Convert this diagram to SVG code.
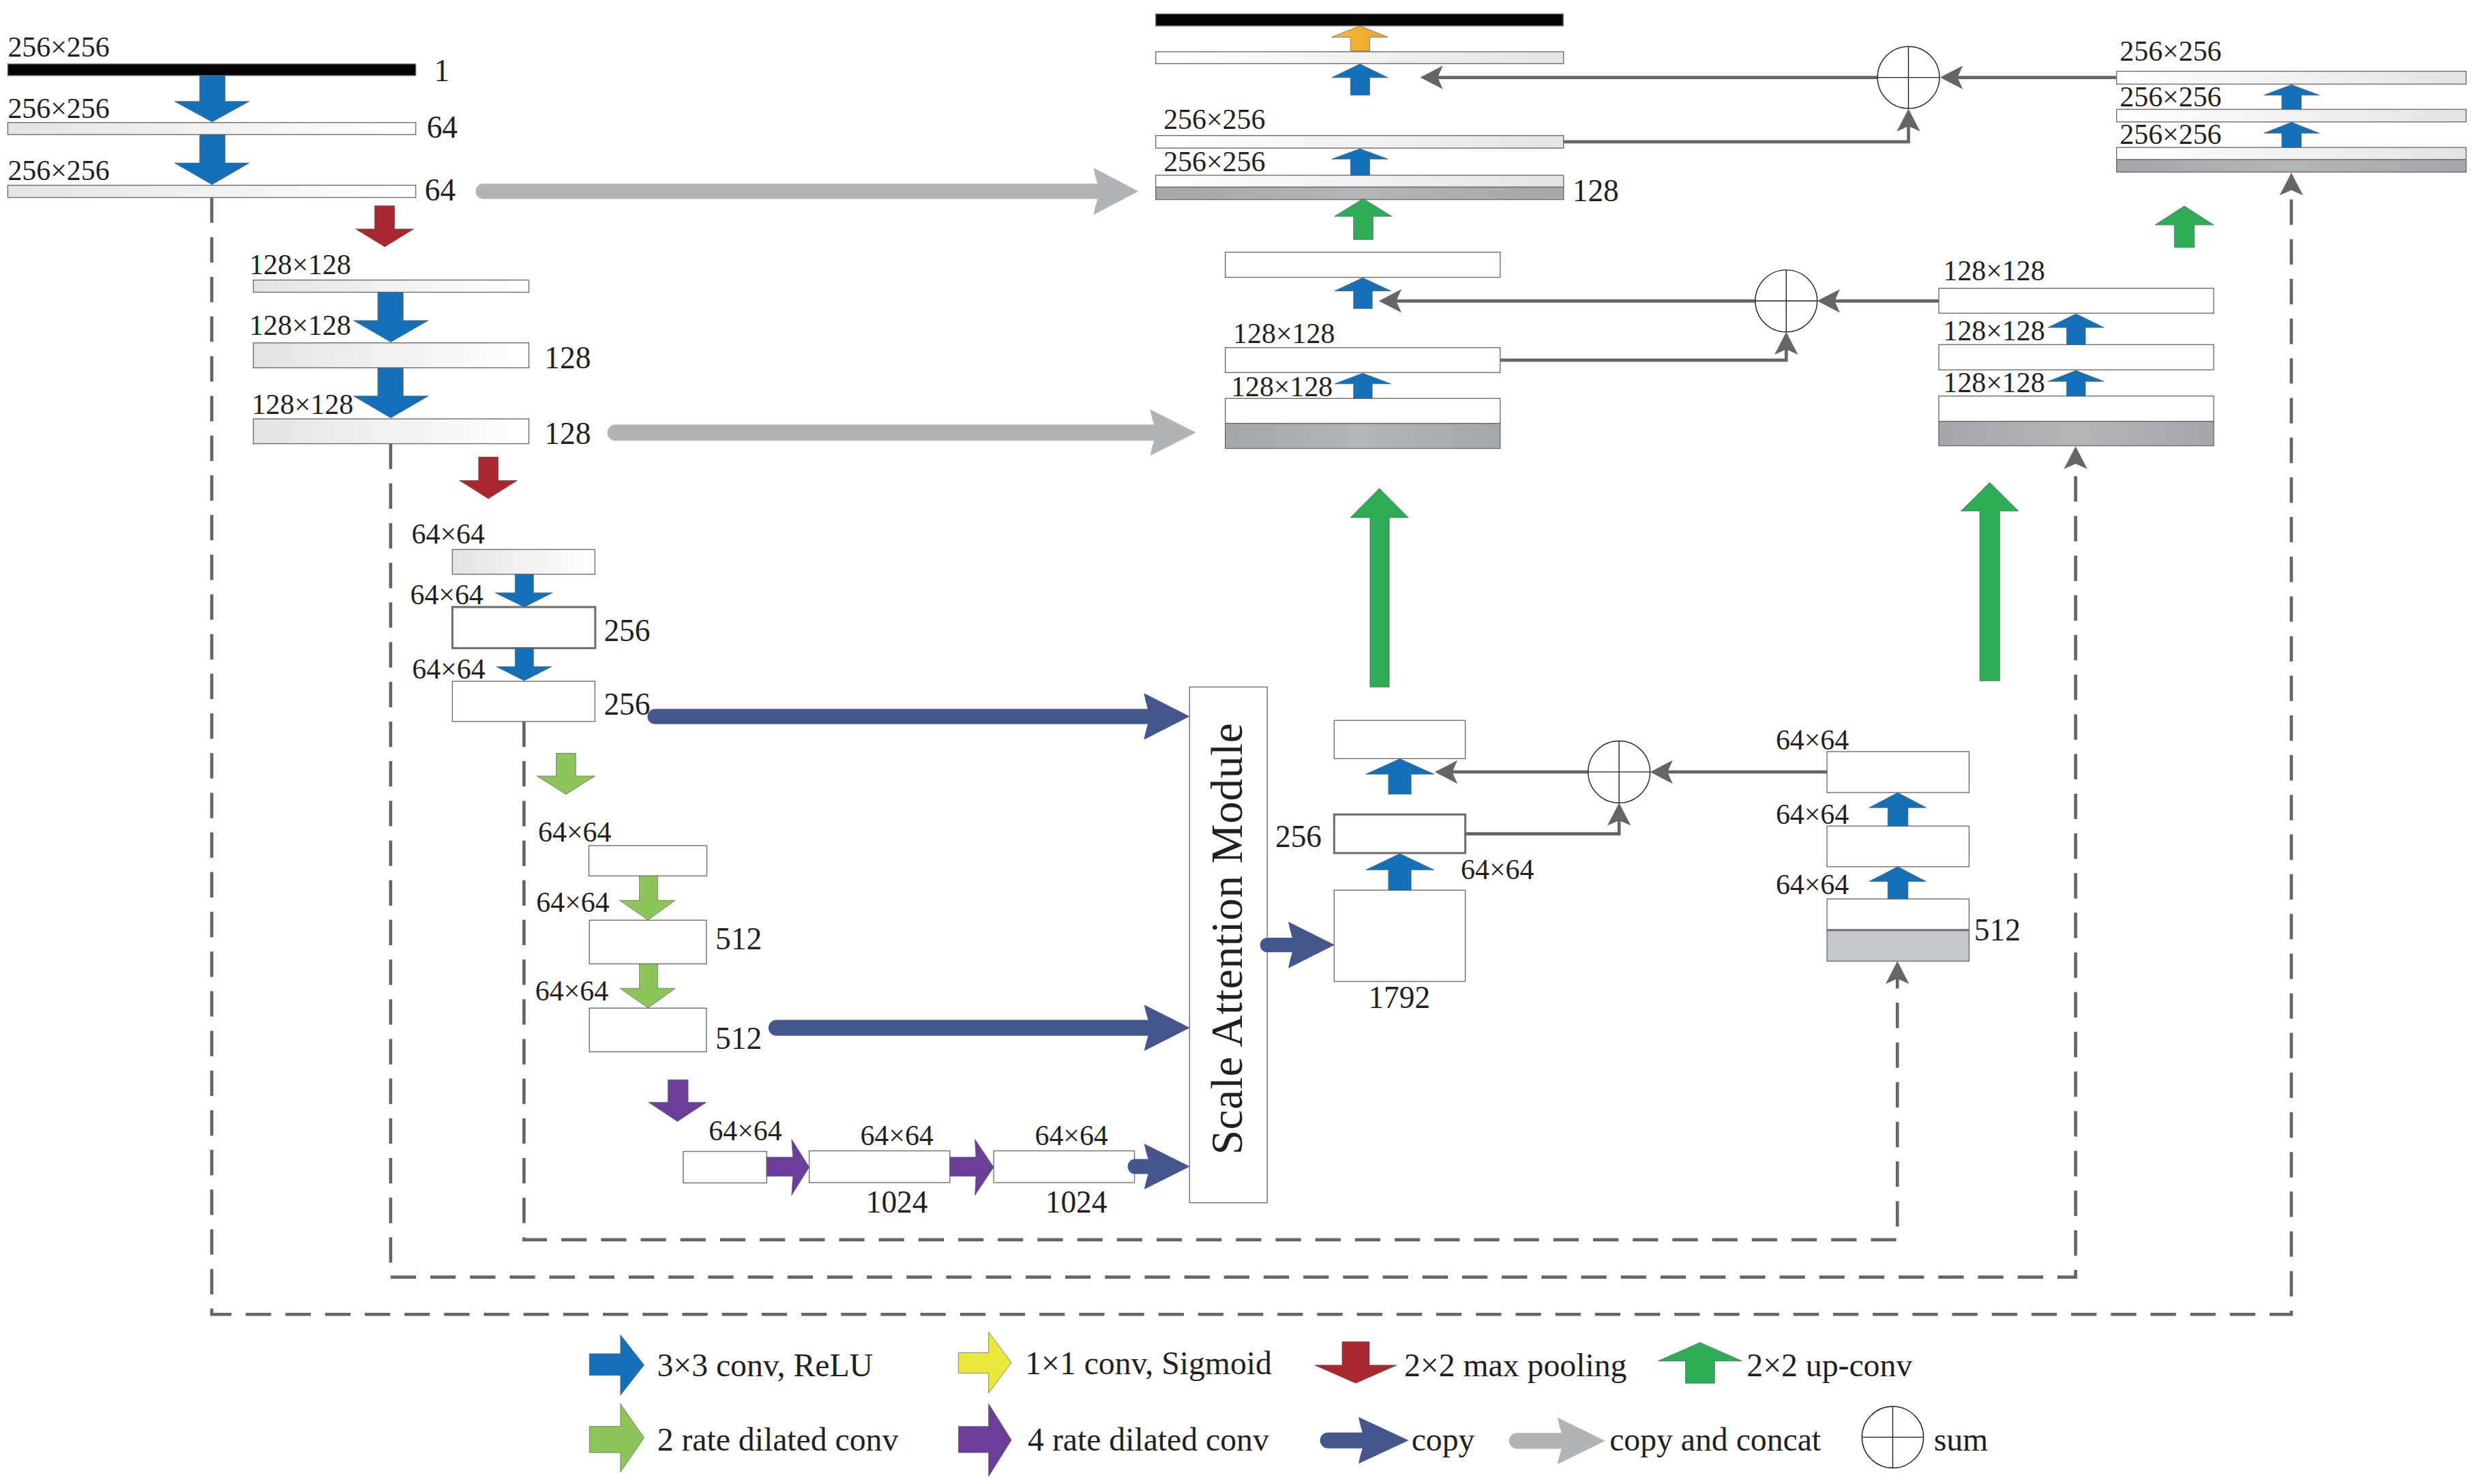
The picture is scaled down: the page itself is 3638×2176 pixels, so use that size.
<svg xmlns="http://www.w3.org/2000/svg" width="3638" height="2176" viewBox="0 0 3638 2176">
<defs>
<style>
.t{font-family:"Liberation Serif","Times New Roman",serif;font-size:18px;fill:#231f20}
.ch{font-size:19.5px}
.lg{font-size:20.5px}
.bx{stroke:#6d6e71;stroke-width:0.6}
.thick{stroke-width:1.3}
.conn{fill:none;stroke:#646567;stroke-width:2}
.dash{fill:none;stroke:#646567;stroke-width:2;stroke-dasharray:16 9}
.sum circle{fill:#fff;stroke:#231f20;stroke-width:0.6}
.sum line{stroke:#231f20;stroke-width:0.6}
.ar{stroke:#58595b;stroke-width:0.3}
.blue{fill:#1570b8}
.red{fill:#a8282f}
.lgr{fill:#8dc55a}
.pur{fill:#6b3f98}
.grn{fill:#2eac57}
.org{fill:url(#gO)}
.yel{fill:#e9e63e}
.cpy{fill:#44568b}
.cat{fill:#b2b3b5}
</style>
<linearGradient id="gL" x1="0" y1="0" x2="1" y2="0"><stop offset="0" stop-color="#e3e4e5"/><stop offset="1" stop-color="#ffffff"/></linearGradient>
<linearGradient id="gR" x1="0" y1="0" x2="1" y2="0"><stop offset="0" stop-color="#ffffff"/><stop offset="1" stop-color="#e3e4e5"/></linearGradient>
<linearGradient id="gG" x1="0" y1="0" x2="1" y2="0"><stop offset="0" stop-color="#a5a7aa"/><stop offset="0.5" stop-color="#b4b5b7"/><stop offset="1" stop-color="#a5a7aa"/></linearGradient>
<linearGradient id="gO" x1="0" y1="0" x2="1" y2="0"><stop offset="0" stop-color="#f5b83a"/><stop offset="1" stop-color="#eea52b"/></linearGradient>
<marker id="ah" markerUnits="userSpaceOnUse" viewBox="-10 -8 16 16" refX="0" refY="0" markerWidth="16" markerHeight="16" orient="auto"><path d="M5,0 L-9.3,-7.4 L-6,0 L-9.3,7.4 Z" fill="#646567"/></marker>
</defs>
<rect width="3638" height="2176" fill="#ffffff"/>
<g transform="scale(2.3276)">

<g id="connectors">
  <g id="skip-dashed">
    <path class="dash" d="M133.4,124.4 V828 H1443.5 V113.8" marker-end="url(#ah)"/>
    <path class="dash" d="M246.1,279.5 V804.5 H1307.6 V286.2" marker-end="url(#ah)"/>
    <path class="dash" d="M330.1,454.5 V781 H1195.3 V610.5" marker-end="url(#ah)"/>
  </g>
  <g id="sum-lines">
    <path class="conn" d="M1333.4,48.8 H1227.2" marker-end="url(#ah)"/>
    <path class="conn" d="M1183.3,48.8 H899.7" marker-end="url(#ah)"/>
    <path class="conn" d="M985,89.3 H1202.3 V73.5" marker-end="url(#ah)"/>
    <path class="conn" d="M1221.4,189.6 H1149.8" marker-end="url(#ah)"/>
    <path class="conn" d="M1105.9,189.6 H873.6" marker-end="url(#ah)"/>
    <path class="conn" d="M945.1,226.9 H1125.3 V214.1" marker-end="url(#ah)"/>
    <path class="conn" d="M1151,486.3 H1044.5" marker-end="url(#ah)"/>
    <path class="conn" d="M1000.5,486.3 H908.9" marker-end="url(#ah)"/>
    <path class="conn" d="M923.1,525.3 H1020 V510.8" marker-end="url(#ah)"/>
  </g>
</g>

<g id="enc-256">
  <text class="t" x="4.9" y="35.5">256×256</text>
  <rect x="4.9" y="40.3" width="257" height="7.3" fill="#050505" class="bx"/>
  <text class="t ch" x="273.5" y="51">1</text>
  <text class="t" x="4.9" y="74.5">256×256</text>
  <rect x="4.9" y="77.2" width="257" height="7.6" fill="url(#gL)" class="bx"/>
  <text class="t ch" x="268.8" y="86.8">64</text>
  <text class="t" x="4.9" y="113.6">256×256</text>
  <rect x="4.9" y="116.7" width="257" height="7.7" fill="url(#gL)" class="bx"/>
  <text class="t ch" x="267.6" y="126.3">64</text>
</g>
<g id="enc-128">
  <text class="t" x="157" y="172.7">128×128</text>
  <rect x="159.6" y="176.4" width="173.6" height="7.7" fill="url(#gL)" class="bx"/>
  <text class="t" x="157" y="211">128×128</text>
  <rect x="159.6" y="216" width="173.6" height="15.7" fill="url(#gL)" class="bx"/>
  <text class="t ch" x="343" y="232">128</text>
  <text class="t" x="158.5" y="260.6">128×128</text>
  <rect x="159.6" y="263.9" width="173.6" height="15.6" fill="url(#gL)" class="bx"/>
  <text class="t ch" x="343" y="279.5">128</text>
</g>
<g id="enc-64">
  <text class="t" x="259.3" y="342.6">64×64</text>
  <rect x="285" y="346.1" width="89.8" height="15.7" fill="url(#gL)" class="bx"/>
  <text class="t" x="258.4" y="380.6">64×64</text>
  <rect x="285" y="382.4" width="90" height="25.9" fill="#fff" class="bx thick"/>
  <text class="t ch" x="380.4" y="404">256</text>
  <text class="t" x="259.6" y="427.5">64×64</text>
  <rect x="285" y="429.2" width="89.8" height="25.3" fill="#fff" class="bx"/>
  <text class="t ch" x="380.4" y="450.1">256</text>
</g>
<g id="dil-2">
  <text class="t" x="339" y="530.3">64×64</text>
  <rect x="371" y="532.7" width="74.3" height="19.1" fill="#fff" class="bx"/>
  <text class="t" x="337.8" y="574.5">64×64</text>
  <rect x="371.3" y="579.7" width="73.7" height="27.5" fill="#fff" class="bx"/>
  <text class="t ch" x="450.7" y="598">512</text>
  <text class="t" x="337.2" y="630.4">64×64</text>
  <rect x="371.3" y="635.1" width="73.7" height="27.5" fill="#fff" class="bx"/>
  <text class="t ch" x="450.7" y="660.8">512</text>
</g>
<g id="dil-4">
  <text class="t" x="446.5" y="718.4">64×64</text>
  <rect x="430.4" y="725.4" width="52.6" height="19.8" fill="#fff" class="bx"/>
  <text class="t" x="565" y="721.3" text-anchor="middle">64×64</text>
  <rect x="509.8" y="725" width="88.6" height="20" fill="#fff" class="bx"/>
  <text class="t ch" x="565" y="764" text-anchor="middle">1024</text>
  <text class="t" x="675" y="721.3" text-anchor="middle">64×64</text>
  <rect x="626" y="725" width="88.7" height="20" fill="#fff" class="bx"/>
  <text class="t ch" x="678" y="764" text-anchor="middle">1024</text>
</g>
<g id="scale-attention">
  <rect x="749.4" y="432.8" width="49" height="324.9" fill="#fff" class="bx"/>
  <text class="t" transform="translate(782.2,591.5) rotate(-90)" text-anchor="middle" textLength="272" lengthAdjust="spacing" style="font-size:28px">Scale Attention Module</text>
</g>
<g id="dec-64">
  <rect x="840.5" y="453.8" width="82.6" height="24.1" fill="#fff" class="bx"/>
  <rect x="840.5" y="513.1" width="82.6" height="24.3" fill="#fff" class="bx thick"/>
  <text class="t ch" x="803.4" y="533.6">256</text>
  <text class="t" x="920.3" y="554">64×64</text>
  <rect x="840.5" y="560.8" width="82.6" height="57.5" fill="#fff" class="bx"/>
  <text class="t ch" x="881.5" y="634.9" text-anchor="middle">1792</text>
</g>
<g id="res-64">
  <text class="t" x="1118.7" y="472.1">64×64</text>
  <rect x="1151" y="473.5" width="89.5" height="25.8" fill="#fff" class="bx"/>
  <text class="t" x="1118.7" y="518.9">64×64</text>
  <rect x="1151" y="520.4" width="89.5" height="25.6" fill="#fff" class="bx"/>
  <text class="t" x="1118.7" y="563.3">64×64</text>
  <rect x="1151" y="566.3" width="89.5" height="19.6" fill="#fff" class="bx"/>
  <rect x="1151" y="585.9" width="89.5" height="19.6" fill="#c6c7c9" class="bx"/>
  <line x1="1151" y1="585.9" x2="1240.5" y2="585.9" stroke="#6d6e71" stroke-width="1.3"/>
  <text class="t ch" x="1243.7" y="592.3">512</text>
</g>
<g id="dec-256">
  <rect x="728.1" y="8.8" width="256.7" height="7.5" fill="#050505" class="bx"/>
  <rect x="728.1" y="32.6" width="256.9" height="7.5" fill="url(#gR)" class="bx"/>
  <text class="t" x="733" y="81">256×256</text>
  <rect x="728.1" y="85.4" width="256.9" height="7.9" fill="url(#gR)" class="bx"/>
  <text class="t" x="733" y="108">256×256</text>
  <rect x="728.1" y="110.4" width="256.9" height="7.5" fill="url(#gR)" class="bx"/>
  <rect x="728.1" y="117.9" width="256.9" height="7.8" fill="url(#gG)" class="bx"/>
  <text class="t ch" x="990.6" y="126.7">128</text>
</g>
<g id="dec-128">
  <rect x="771.9" y="158.9" width="173.2" height="15.8" fill="#fff" class="bx"/>
  <text class="t" x="776.8" y="216">128×128</text>
  <rect x="771.9" y="219" width="173.2" height="15.7" fill="#fff" class="bx"/>
  <text class="t" x="775.5" y="249.5">128×128</text>
  <rect x="771.9" y="251" width="173.2" height="15.8" fill="#fff" class="bx"/>
  <rect x="771.9" y="266.8" width="173.2" height="15.7" fill="url(#gG)" class="bx"/>
</g>
<g id="res-128">
  <text class="t" x="1224.2" y="176.6">128×128</text>
  <rect x="1221.4" y="181.6" width="173.2" height="15.7" fill="#fff" class="bx"/>
  <text class="t" x="1224.2" y="214.4">128×128</text>
  <rect x="1221.4" y="217.1" width="173.2" height="15.9" fill="#fff" class="bx"/>
  <text class="t" x="1224.2" y="247.2">128×128</text>
  <rect x="1221.4" y="249.5" width="173.2" height="16" fill="#fff" class="bx"/>
  <rect x="1221.4" y="265.5" width="173.2" height="15.3" fill="url(#gG)" class="bx"/>
</g>
<g id="res-256">
  <text class="t" x="1335.4" y="38.4">256×256</text>
  <rect x="1333.4" y="44.9" width="220.2" height="8.1" fill="url(#gR)" class="bx"/>
  <text class="t" x="1335.4" y="67.2">256×256</text>
  <rect x="1333.4" y="68.9" width="220.2" height="7.9" fill="url(#gR)" class="bx"/>
  <text class="t" x="1335.4" y="90.6">256×256</text>
  <rect x="1333.4" y="92.9" width="220.2" height="7.7" fill="url(#gR)" class="bx"/>
  <rect x="1333.4" y="100.6" width="220.2" height="7.8" fill="url(#gG)" class="bx"/>
</g>
<g id="sum-1" class="sum"><circle cx="1202.3" cy="48.8" r="19.5"/><line x1="1182.8" y1="48.8" x2="1221.8" y2="48.8"/><line x1="1202.3" y1="29.3" x2="1202.3" y2="68.3"/></g>
<g id="sum-2" class="sum"><circle cx="1125.3" cy="189.6" r="19.5"/><line x1="1105.8" y1="189.6" x2="1144.8" y2="189.6"/><line x1="1125.3" y1="170.1" x2="1125.3" y2="209.1"/></g>
<g id="sum-3" class="sum"><circle cx="1020" cy="486.3" r="19.5"/><line x1="1000.5" y1="486.3" x2="1039.5" y2="486.3"/><line x1="1020" y1="466.8" x2="1020" y2="505.8"/></g>

<g id="op-arrows" class="ar">
  <polygon class="blue" points="125.8,47.6 141.8,47.6 141.8,63.9 157,63.9 133.6,76.8 110,63.9 125.8,63.9"/>
  <polygon class="blue" points="125.8,84.8 141.8,84.8 141.8,102.7 157,102.7 133.6,116.3 110,102.7 125.8,102.7"/>
  <polygon class="red" points="236,129.6 248.6,129.6 248.6,144.3 260.7,144.3 242.4,155.5 224,144.3 236,144.3"/>
  <polygon class="blue" points="238,184.1 254,184.1 254,201.9 269.8,201.9 246.2,215.5 222.7,201.9 238,201.9"/>
  <polygon class="blue" points="238,231.7 254,231.7 254,249.5 269.8,249.5 246.2,263.3 222.7,249.5 238,249.5"/>
  <polygon class="red" points="301.5,287.9 313.9,287.9 313.9,302.7 325.9,302.7 307.7,314.2 289.4,302.7 301.5,302.7"/>
  <polygon class="blue" points="324.5,361.8 336.1,361.8 336.1,373.4 348.1,373.4 330.3,382.4 311.9,373.4 324.5,373.4"/>
  <polygon class="blue" points="324.5,408.3 336.1,408.3 336.1,420 347.5,420 330.3,428.8 312.7,420 324.5,420"/>
  <polygon class="lgr" points="350.4,474.5 362.7,474.5 362.7,488.9 374.8,488.9 356.6,500.4 338.3,488.9 350.4,488.9"/>
  <polygon class="lgr" points="402.8,551.8 414.3,551.8 414.3,567.2 425.3,567.2 408.3,579.6 390.3,567.2 402.8,567.2"/>
  <polygon class="lgr" points="402.8,607.2 414.3,607.2 414.3,622.6 425.4,622.6 408.3,635 390.5,622.6 402.8,622.6"/>
  <polygon class="pur" points="420.8,680.2 433.5,680.2 433.5,694.4 445,694.4 426.8,706.5 408.5,694.4 420.8,694.4"/>
  <polygon class="pur" points="483,729 499.5,729 498.7,717.7 509.8,735.3 498.7,753 499.5,741 483,741"/>
  <polygon class="pur" points="598.4,729 614.8,729 614.2,717.7 626,735.3 614.2,753 614.8,741 598.4,741"/>
  <polygon class="org" points="850.8,32.2 862.9,32.2 862.9,23.4 874.4,23.4 856.7,16.3 839,23.4 850.8,23.4"/>
  <polygon class="blue" points="850.8,59.9 862.9,59.9 862.9,48.9 874.4,48.9 856.7,40.3 839,48.9 850.8,48.9"/>
  <polygon class="blue" points="850.8,110.4 862.9,110.4 862.9,100.2 874.4,100.2 856.7,93.7 839,100.2 850.8,100.2"/>
  <polygon class="grn" points="852.7,150.9 865,150.9 865,136.3 876.8,136.3 858.8,125.1 840.7,136.3 852.7,136.3"/>
  <polygon class="blue" points="852.7,194.4 864.5,194.4 864.5,183.3 876.3,183.3 858.5,175 840.7,183.3 852.7,183.3"/>
  <polygon class="blue" points="852.7,251 864.5,251 864.5,241.8 876.3,241.8 858.5,235.1 840.7,241.8 852.7,241.8"/>
  <polygon class="grn" points="863.1,432.8 875.2,432.8 875.2,326.1 887.3,326.1 869,307.6 850.7,326.1 863.1,326.1"/>
  <polygon class="grn" points="1247.2,428.9 1259.8,428.9 1259.8,321.9 1271.6,321.9 1253.5,303.9 1235.4,321.9 1247.2,321.9"/>
  <polygon class="blue" points="874.7,560.8 889,560.8 889,548 903.5,548 881.9,537.8 860.4,548 874.7,548"/>
  <polygon class="blue" points="874.7,500.3 889,500.3 889,487.7 903.5,487.7 881.9,478 860.4,487.7 874.7,487.7"/>
  <polygon class="blue" points="1189.3,520.4 1202,520.4 1202,508.8 1213.5,508.8 1195.6,499.3 1177.5,508.8 1189.3,508.8"/>
  <polygon class="blue" points="1189.3,566.3 1202,566.3 1202,555.3 1213.5,555.3 1195.6,546 1177.5,555.3 1189.3,555.3"/>
  <polygon class="blue" points="1301.9,217.1 1313.8,217.1 1313.8,206.3 1325.5,206.3 1307.8,197.7 1290.2,206.3 1301.9,206.3"/>
  <polygon class="blue" points="1301.9,249.5 1313.8,249.5 1313.8,240.3 1325.5,240.3 1307.8,233.4 1290.2,240.3 1301.9,240.3"/>
  <polygon class="grn" points="1369.8,155.9 1382.4,155.9 1382.4,141.7 1394.6,141.7 1376.1,129.8 1357.6,141.7 1369.8,141.7"/>
  <polygon class="blue" points="1437.5,68.7 1449.8,68.7 1449.8,59.9 1461.1,59.9 1443.6,53.4 1426.2,59.9 1437.5,59.9"/>
  <polygon class="blue" points="1437.5,92.9 1449.8,92.9 1449.8,83.9 1461.1,83.9 1443.6,77 1426.2,83.9 1437.5,83.9"/>
</g>
<g id="copy-arrows">
  <path class="cat" d="M304.5,115.7 L691.4,115.7 Q689.8,110.5 688.9,105.7 L717.2,120.5 L688.9,135.3 Q689.8,130.5 691.4,125.3 L304.5,125.3 A4.8,4.8 0 0 1 304.5,115.7 Z"/>
  <path class="cat" d="M387.7,267.4 L727,267.4 Q725.4,262.5 724.5,257.9 L753.5,272.5 L724.5,287.1 Q725.4,282.5 727,277.6 L387.7,277.6 A5.1,5.1 0 0 1 387.7,267.4 Z"/>
  <path class="cpy" d="M412.7,446.6 L723.1,446.6 Q721.5,441.3 720.6,436.6 L749.5,451.3 L720.6,466 Q721.5,461.3 723.1,456.2 L412.7,456.2 A4.8,4.8 0 0 1 412.7,446.6 Z"/>
  <path class="cpy" d="M489.1,642.5 L723.3,642.5 Q721.7,637.5 720.8,632.9 L749.6,647.5 L720.8,662.1 Q721.7,657.5 723.3,652.5 L489.1,652.5 A5,5 0 0 1 489.1,642.5 Z"/>
  <path class="cpy" d="M715.1,730.2 L723.3,730.2 Q721.7,725 720.8,720.5 L749.6,734.9 L720.8,749.3 Q721.7,744.8 723.3,739.6 L715.1,739.6 A4.7,4.7 0 0 1 715.1,730.2 Z"/>
  <path class="cpy" d="M798.4,590.7 L814.1,590.7 Q812.5,585.5 811.6,580.6 L840.8,595.3 L811.6,610 Q812.5,605.1 814.1,599.9 L798.4,599.9 A4.6,4.6 0 0 1 798.4,590.7 Z"/>
</g>

<g id="legend">
  <polygon class="blue ar" points="371.3,852.8 390.9,852.8 390.9,840.9 405.8,859.9 390.9,878.9 390.9,866.4 371.3,866.4"/>
  <text class="t lg" x="413.9" y="867.1">3×3 conv, ReLU</text>
  <polygon class="yel ar" points="603.8,852.1 622.8,852.1 622.8,839.2 637.2,858.4 622.8,877.6 622.8,865 603.8,865"/>
  <text class="t lg" x="645.8" y="865.7">1×1 conv, Sigmoid</text>
  <polygon class="red ar" points="845.5,845.2 862.7,845.2 862.7,860 880,860 854.1,871.4 828.2,860 845.5,860"/>
  <text class="t lg" x="884.6" y="867.1">2×2 max pooling</text>
  <polygon class="grn ar" points="1061.8,871.4 1080.2,871.4 1080.2,857.4 1097.5,857.4 1071,845.7 1044.5,857.4 1061.8,857.4"/>
  <text class="t lg" x="1100.4" y="867.1">2×2 up-conv</text>
  <polygon class="lgr ar" points="371.3,898.6 390.9,898.6 390.9,884.3 405.8,905.8 390.9,927.3 390.9,915.1 371.3,915.1"/>
  <text class="t lg" x="414" y="913.7">2 rate dilated conv</text>
  <polygon class="pur ar" points="603.8,898.6 622.8,898.6 622.8,884.3 637.2,907.2 622.8,930.1 622.8,915.1 603.8,915.1"/>
  <text class="t lg" x="647.5" y="913.7">4 rate dilated conv</text>
  <path class="cpy" d="M836.6,902.4 L858.3,902.4 Q856.7,897.4 855.8,892.7 L887.5,907.4 L855.8,922.1 Q856.7,917.4 858.3,912.4 L836.6,912.4 A5,5 0 0 1 836.6,902.4 Z"/>
  <text class="t lg" x="889.2" y="913.7">copy</text>
  <path class="cat" d="M955.7,902.7 L983.7,902.7 Q982.1,897.7 981.2,893 L1011.2,907.7 L981.2,922.4 Q982.1,917.7 983.7,912.7 L955.7,912.7 A5,5 0 0 1 955.7,902.7 Z"/>
  <text class="t lg" x="1014" y="913.7">copy and concat</text>
  <g class="sum"><circle cx="1192.4" cy="905.4" r="19.4"/><line x1="1173" y1="905.4" x2="1211.8" y2="905.4"/><line x1="1192.4" y1="886" x2="1192.4" y2="924.8"/></g>
  <text class="t lg" x="1218.3" y="913.7">sum</text>
</g>
</g>
</svg>
